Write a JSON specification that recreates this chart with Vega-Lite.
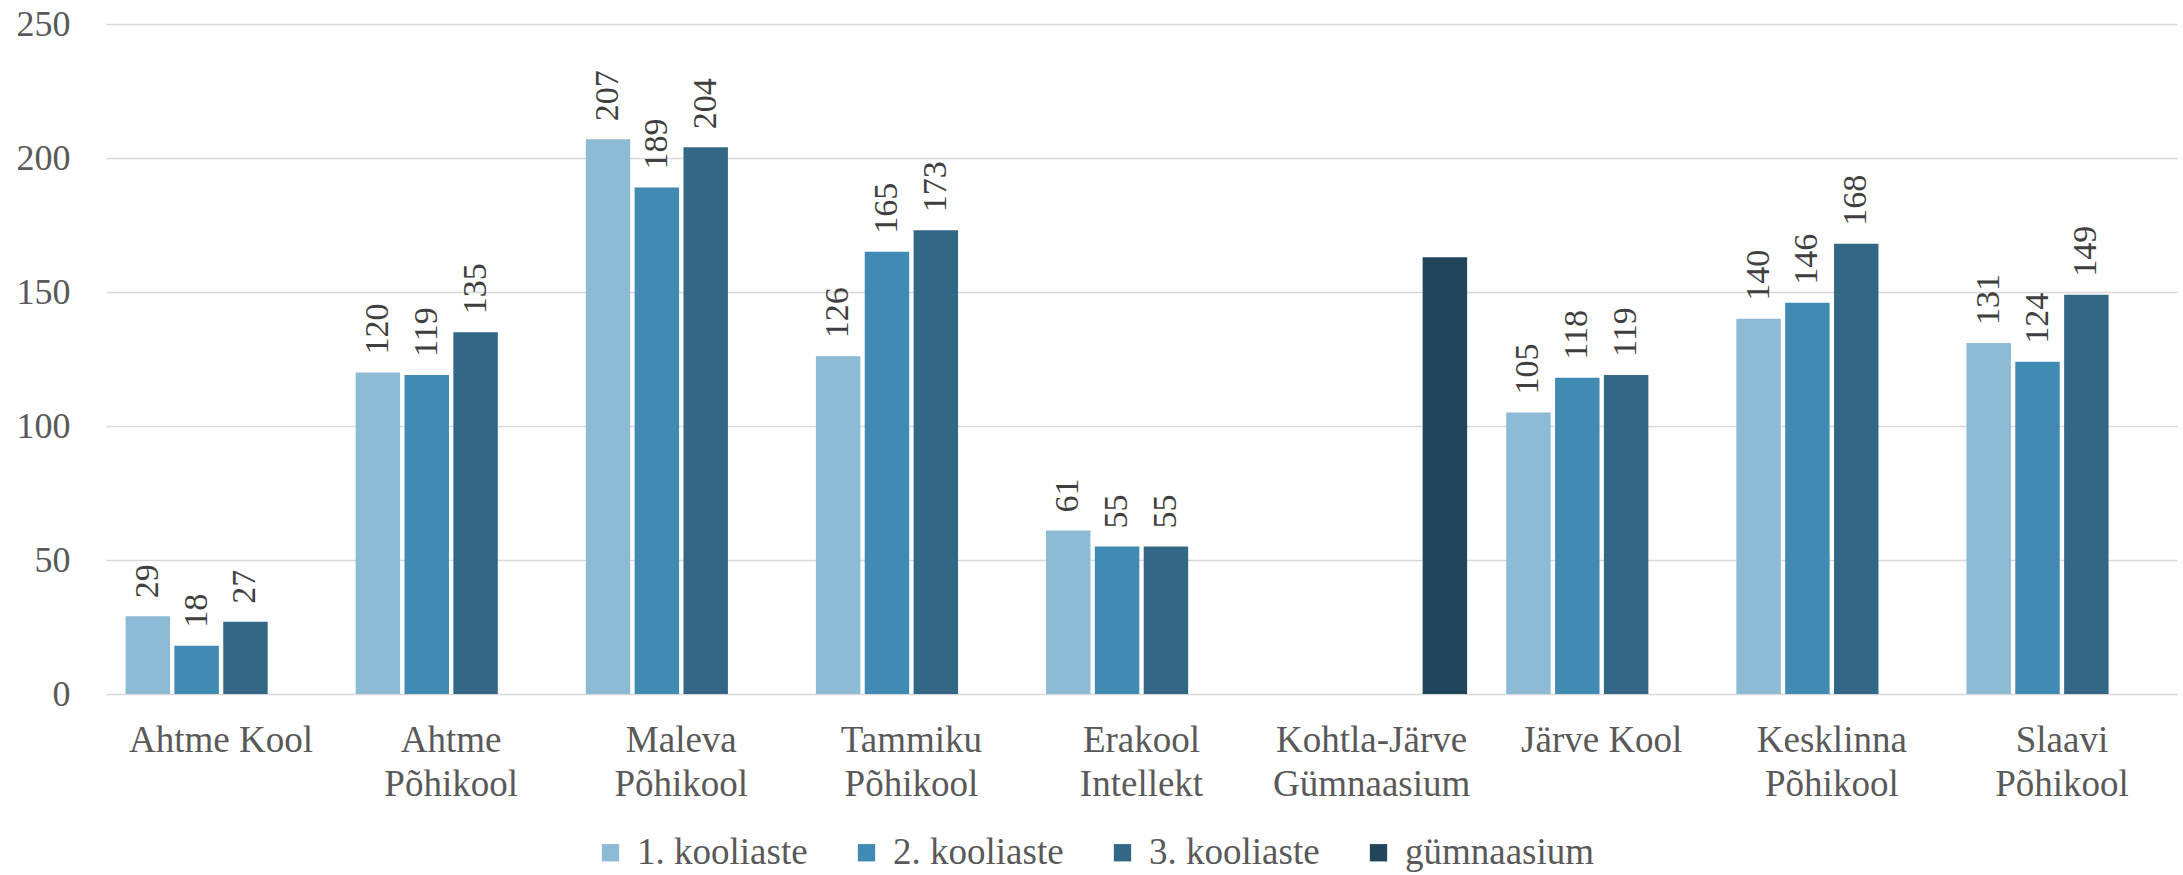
{
  "$schema": "https://vega.github.io/schema/vega-lite/v6.json",
  "autosize": {"type": "none"},
  "padding": {"left": 106, "top": 24, "right": 6, "bottom": 181},
  "width": 2071,
  "height": 670,
  "background": "#ffffff",
  "config": {
    "font": "Liberation Serif",
    "view": {"stroke": null},
    "axis": {"labelFont": "Liberation Serif", "labelColor": "#595959", "labelFontSize": 37, "labelLimit": 0, "ticks": false, "domain": false, "title": null},
    "text": {"font": "Liberation Serif"},
    "legend": {"padding": 0, "labelLimit": 0}
  },
  "data": {
    "values": [
      {"kool": "Ahtme Kool", "aste": "1. kooliaste", "arv": 29},
      {"kool": "Ahtme Kool", "aste": "2. kooliaste", "arv": 18},
      {"kool": "Ahtme Kool", "aste": "3. kooliaste", "arv": 27},
      {"kool": "Ahtme Põhikool", "aste": "1. kooliaste", "arv": 120},
      {"kool": "Ahtme Põhikool", "aste": "2. kooliaste", "arv": 119},
      {"kool": "Ahtme Põhikool", "aste": "3. kooliaste", "arv": 135},
      {"kool": "Maleva Põhikool", "aste": "1. kooliaste", "arv": 207},
      {"kool": "Maleva Põhikool", "aste": "2. kooliaste", "arv": 189},
      {"kool": "Maleva Põhikool", "aste": "3. kooliaste", "arv": 204},
      {"kool": "Tammiku Põhikool", "aste": "1. kooliaste", "arv": 126},
      {"kool": "Tammiku Põhikool", "aste": "2. kooliaste", "arv": 165},
      {"kool": "Tammiku Põhikool", "aste": "3. kooliaste", "arv": 173},
      {"kool": "Erakool Intellekt", "aste": "1. kooliaste", "arv": 61},
      {"kool": "Erakool Intellekt", "aste": "2. kooliaste", "arv": 55},
      {"kool": "Erakool Intellekt", "aste": "3. kooliaste", "arv": 55},
      {"kool": "Kohtla-Järve Gümnaasium", "aste": "gümnaasium", "arv": 163},
      {"kool": "Järve Kool", "aste": "1. kooliaste", "arv": 105},
      {"kool": "Järve Kool", "aste": "2. kooliaste", "arv": 118},
      {"kool": "Järve Kool", "aste": "3. kooliaste", "arv": 119},
      {"kool": "Kesklinna Põhikool", "aste": "1. kooliaste", "arv": 140},
      {"kool": "Kesklinna Põhikool", "aste": "2. kooliaste", "arv": 146},
      {"kool": "Kesklinna Põhikool", "aste": "3. kooliaste", "arv": 168},
      {"kool": "Slaavi Põhikool", "aste": "1. kooliaste", "arv": 131},
      {"kool": "Slaavi Põhikool", "aste": "2. kooliaste", "arv": 124},
      {"kool": "Slaavi Põhikool", "aste": "3. kooliaste", "arv": 149}
    ]
  },
  "encoding": {
    "x": {
      "field": "kool", "type": "nominal", "sort": null,
      "scale": {"paddingInner": 0.17, "paddingOuter": 0.085},
      "axis": {"labelAngle": 0, "labelPadding": 28, "labelLineHeight": 44,
               "labelExpr": "(datum.label == 'Ahtme Kool' || datum.label == 'Järve Kool') ? datum.label : split(datum.label, ' ')"}
    },
    "xOffset": {
      "field": "aste", "type": "nominal",
      "scale": {"domain": ["1. kooliaste", "2. kooliaste", "3. kooliaste", "gümnaasium"], "paddingInner": 0.09, "paddingOuter": 0}
    },
    "y": {
      "field": "arv", "type": "quantitative",
      "scale": {"domain": [0, 250], "nice": false},
      "axis": {"values": [0, 50, 100, 150, 200, 250], "grid": true, "gridColor": "#D9D9D9", "gridWidth": 1.5, "labelPadding": 36, "labelFontSize": 36}
    }
  },
  "layer": [
    {
      "mark": {"type": "bar"},
      "encoding": {
        "color": {
          "field": "aste", "type": "nominal",
          "scale": {"domain": ["1. kooliaste", "2. kooliaste", "3. kooliaste", "gümnaasium"], "range": ["#8DBAD4", "#418AB3", "#326886", "#22455B"]},
          "legend": {"title": null, "orient": "none", "legendX": 486, "legendY": 810, "direction": "horizontal",
                     "symbolType": "square", "symbolSize": 300, "symbolStrokeWidth": 0, "labelFontSize": 37, "labelColor": "#595959",
                     "labelFont": "Liberation Serif", "labelOffset": 8, "columnPadding": 40, "labelLimit": 0}
        }
      }
    },
    {
      "transform": [{"filter": "datum.aste != 'gümnaasium'"}],
      "mark": {"type": "text", "angle": 270, "align": "left", "baseline": "middle", "dx": 18, "fontSize": 34, "color": "#404040", "font": "Liberation Serif"},
      "encoding": {"text": {"field": "arv", "type": "quantitative"}}
    }
  ]
}
